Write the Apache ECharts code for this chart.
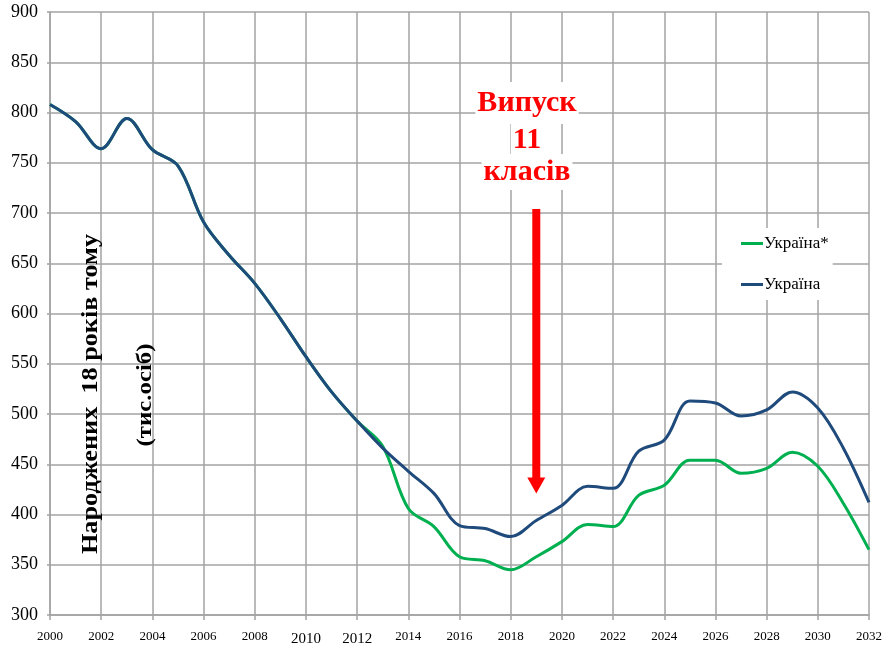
<!DOCTYPE html>
<html>
<head>
<meta charset="utf-8">
<script src="https://cdn.jsdelivr.net/npm/echarts@6/dist/echarts.min.js"></script>
<style>
html,body{margin:0;padding:0;background:#fff;}
#c{width:889px;height:648px;}
</style>
</head>
<body>
<div id="c"></div>
<script>
const years = [2000,2001,2002,2003,2004,2005,2006,2007,2008,2009,2010,2011,2012,2013,2014,2015,2016,2017,2018,2019,2020,2021,2022,2023,2024,2025,2026,2027,2028,2029,2030,2031,2032];
const ukraineStar = [808,791,764,794,763,747,691,658,630,595,557,522,493,468,406,388,358,354,345,358,373,390,388,419,429,454,454,441,446,462,448,411,365];
const ukraine = [808,791,764,794,763,747,691,658,630,595,557,522,493,466,443,421,389,386,378,394,409,428,426,463,474,513,511,498,504,522,506,466,412];
const seriesNames = ['Україна*','Україна'];
const bigLabels = ['2010','2012'];
const yTitle = 'Народжених  18 років тому';
const yUnit = '(тис.осіб)';
const annotLines = ['Випуск','11','класів'];
const arrowYear = 2019;
const arrowTop = 704;
const arrowTip = 421;

const serif = '"Liberation Serif","Times New Roman",serif';
const chart = echarts.init(document.getElementById('c'));
const gridColor = '#a3a3a3';

chart.setOption({
  animation: false,
  backgroundColor: '#fff',
  grid: {left: 50, right: 20, top: 12, bottom: 33},
  legend: {
    orient: 'vertical',
    left: 722, top: 228,
    backgroundColor: '#fff',
    padding: [7, 4, 7, 19],
    itemGap: 24,
    itemWidth: 22, itemHeight: 3,
    icon: 'rect',
    textStyle: {fontFamily: serif, fontSize: 17, color: '#000', padding: [0,0,0,-4]},
    data: seriesNames
  },
  xAxis: {
    type: 'value', min: 2000, max: 2032, interval: 2,
    axisLine: {show: true, lineStyle: {color: gridColor, width: 1.5}},
    axisTick: {show: true, length: 5, lineStyle: {color: gridColor, width: 1.5}},
    splitLine: {show: true, lineStyle: {color: gridColor, width: 1.5}},
    axisLabel: {
      margin: 9,
      color: '#000', fontFamily: serif, fontSize: 13,
      formatter: function (v) {
        const s = String(v);
        return bigLabels.indexOf(s) >= 0 ? '{b|' + s + '}' : '{n|' + s + '}';
      },
      rich: {
        n: {fontFamily: serif, fontSize: 13, color: '#000', padding: [6,0,0,0]},
        b: {fontFamily: serif, fontSize: 15, color: '#000', padding: [8,0,0,0]}
      }
    }
  },
  yAxis: {
    type: 'value', min: 300, max: 900, interval: 50,
    axisLine: {show: true, lineStyle: {color: gridColor, width: 1.5}},
    axisTick: {show: true, length: 3, lineStyle: {color: gridColor, width: 1.5}},
    splitLine: {show: true, lineStyle: {color: gridColor, width: 1.5}},
    axisLabel: {margin: 12, color: '#000', fontFamily: serif, fontSize: 18}
  },
  series: [
    {
      name: seriesNames[0], type: 'line', smooth: 0.35, showSymbol: false, symbol: 'none',
      color: '#00B050',
      lineStyle: {width: 3, color: '#00B050'},
      data: years.map((y, i) => [y, ukraineStar[i]]),
      z: 2
    },
    {
      name: seriesNames[1], type: 'line', smooth: 0.35, showSymbol: false, symbol: 'none',
      color: '#1F4A7C',
      lineStyle: {width: 3, color: '#1F4A7C'},
      data: years.map((y, i) => [y, ukraine[i]]),
      z: 3
    }
  ]
});

const pTop = chart.convertToPixel({xAxisIndex: 0, yAxisIndex: 0}, [arrowYear, arrowTop]);
const pTip = chart.convertToPixel({xAxisIndex: 0, yAxisIndex: 0}, [arrowYear, arrowTip]);
const ax = pTop[0], headH = 16, shaftW = 8, headW = 18;

chart.setOption({
  graphic: [
    {
      type: 'text', x: 91, y: 394, rotation: Math.PI / 2, scaleX: 1.14, z: 10,
      style: {text: yTitle, font: 'bold 23px ' + serif, fill: '#000', align: 'center', verticalAlign: 'middle'}
    },
    {
      type: 'text', x: 146, y: 395, rotation: Math.PI / 2, scaleX: 1.18, z: 10,
      style: {text: yUnit, font: 'bold 21px ' + serif, fill: '#000', align: 'center', verticalAlign: 'middle'}
    },
    {
      type: 'text', x: 527, y: 103, z: 10,
      style: {text: annotLines[0], font: 'bold 30px ' + serif, fill: '#FF0000', align: 'center', verticalAlign: 'middle',
        backgroundColor: '#fff', padding: [8, 2, 4, 2]}
    },
    {
      type: 'text', x: 527, y: 140, z: 10,
      style: {text: annotLines[1], font: 'bold 30px ' + serif, fill: '#FF0000', align: 'center', verticalAlign: 'middle',
        backgroundColor: '#fff', padding: [2, 2, 2, 2]}
    },
    {
      type: 'text', x: 527, y: 172, z: 10,
      style: {text: annotLines[2], font: 'bold 30px ' + serif, fill: '#FF0000', align: 'center', verticalAlign: 'middle',
        backgroundColor: '#fff', padding: [0, 2, 6, 2]}
    },
    {
      type: 'rect', z: 10,
      shape: {x: ax - shaftW / 2, y: pTop[1], width: shaftW, height: pTip[1] - pTop[1] - headH + 1},
      style: {fill: '#FF0000'}
    },
    {
      type: 'polygon', z: 10,
      shape: {points: [[ax - headW / 2, pTip[1] - headH], [ax + headW / 2, pTip[1] - headH], [ax, pTip[1]]]},
      style: {fill: '#FF0000'}
    }
  ]
});
</script>
</body>
</html>
